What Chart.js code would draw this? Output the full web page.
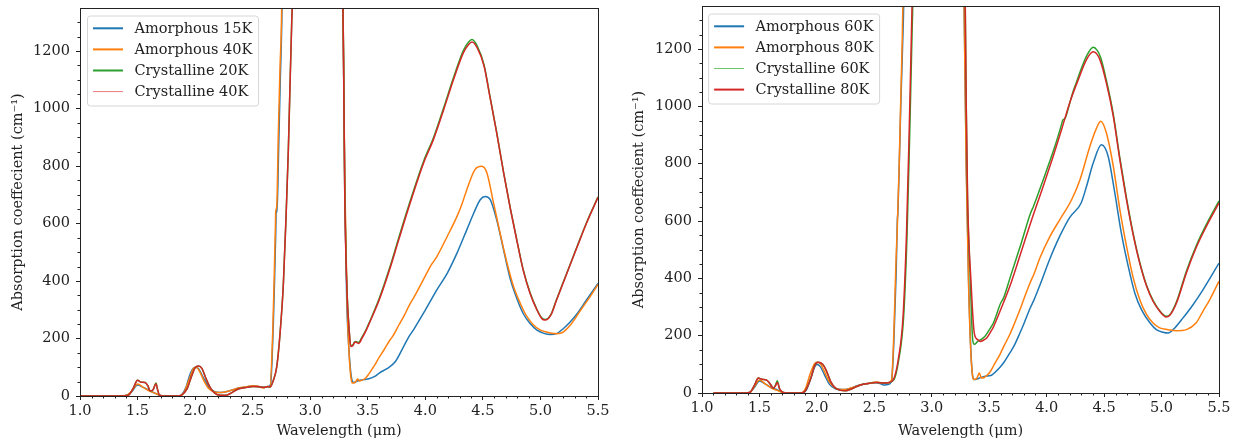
<!DOCTYPE html>
<html>
<head>
<meta charset="utf-8">
<script src="https://cdn.jsdelivr.net/npm/chart.js@4.4.0/dist/chart.umd.min.js"></script>
<style>
  html, body { margin: 0; padding: 0; background: #fff; }
  #wrap { position: relative; width: 1241px; height: 444px; overflow: hidden; }
  canvas { position: absolute; top: 0; }
</style>
</head>
<body>
<div id="wrap">
  <canvas id="cLeft" width="620" height="444" style="left:0;width:620px;height:444px"></canvas>
  <canvas id="cRight" width="621" height="444" style="left:620px;width:621px;height:444px"></canvas>
</div>
<script>
// ---------- axis / tick values ----------
const xTicks = [1.0, 1.5, 2.0, 2.5, 3.0, 3.5, 4.0, 4.5, 5.0, 5.5];
const yTicks = [0, 200, 400, 600, 800, 1000, 1200];
const xRange = [1.0, 5.5];
const yRange = [0, 1350];
const xTitle = 'Wavelength (μm)';
const yTitle = 'Absorption coeffecient (cm⁻¹)';

// ---------- left panel series: [wavelength µm, absorption cm^-1] ----------
const leftLabels = ['Amorphous 15K', 'Amorphous 40K', 'Crystalline 20K', 'Crystalline 40K'];
const amorph15K = [[1.0,0],[1.3,0],[1.4,2],[1.45,15],[1.5,38],[1.55,30],[1.6,20],[1.65,10],[1.7,2],[1.8,0],[1.87,0],[1.92,30],[1.96,80],[2.0,100],[2.03,95],[2.07,65],[2.12,30],[2.17,15],[2.22,12],[2.3,18],[2.38,28],[2.45,32],[2.5,35],[2.55,33],[2.6,30],[2.63,32],[2.655,40],[2.668,120],[2.68,260],[2.69,400],[2.70,560],[2.705,650],[2.712,640],[2.725,850],[2.74,1100],[2.755,1360],[2.78,2500],[3.25,2500],[3.275,1700],[3.285,1360],[3.30,720],[3.317,334],[3.335,170],[3.35,90],[3.365,52],[3.38,47],[3.41,52],[3.435,55],[3.47,57],[3.51,60],[3.56,68],[3.60,80],[3.666,95],[3.74,120],[3.81,171],[3.86,208],[3.90,232],[4.0,299],[4.10,369],[4.19,427],[4.275,497],[4.36,578],[4.42,636],[4.477,683],[4.52,694],[4.564,683],[4.62,613],[4.68,508],[4.74,404],[4.80,334],[4.85,287],[4.91,252],[4.97,229],[5.03,218],[5.086,214],[5.14,217],[5.20,235],[5.26,258],[5.32,287],[5.40,334],[5.5,392]];
const amorph40K = [[1.0,0],[1.3,0],[1.4,2],[1.45,18],[1.5,42],[1.55,30],[1.6,18],[1.65,10],[1.7,2],[1.76,0],[1.86,0],[1.9,10],[1.95,60],[1.99,98],[2.01,100],[2.04,85],[2.08,50],[2.12,25],[2.17,14],[2.22,12],[2.3,18],[2.38,28],[2.45,32],[2.5,36],[2.55,34],[2.59,28],[2.62,32],[2.651,33],[2.674,218],[2.686,392],[2.698,600],[2.70,640],[2.709,659],[2.723,915],[2.738,1148],[2.752,1351],[2.775,2500],[3.25,2500],[3.275,1700],[3.285,1360],[3.30,760],[3.32,330],[3.34,130],[3.355,60],[3.367,45],[3.38,45],[3.40,52],[3.41,59],[3.43,52],[3.45,55],[3.48,62],[3.51,77],[3.55,101],[3.60,135],[3.64,160],[3.69,193],[3.72,210],[3.77,247],[3.81,275],[3.86,315],[3.91,350],[4.0,418],[4.05,455],[4.10,485],[4.19,555],[4.275,625],[4.32,670],[4.36,718],[4.43,787],[4.49,799],[4.535,776],[4.593,671],[4.65,566],[4.71,462],[4.767,380],[4.825,322],[4.883,276],[4.94,247],[5.0,229],[5.057,222],[5.1,218],[5.144,217],[5.18,219],[5.20,223],[5.26,247],[5.35,299],[5.43,345],[5.5,388]];
const cryst20K = [[1.0,0],[1.35,0],[1.42,3],[1.46,25],[1.5,55],[1.53,48],[1.565,47],[1.59,35],[1.61,18],[1.635,22],[1.66,45],[1.675,20],[1.69,3],[1.72,0],[1.85,0],[1.88,3],[1.93,25],[1.97,70],[2.0,98],[2.03,104],[2.06,95],[2.09,65],[2.13,30],[2.17,10],[2.22,3],[2.27,3],[2.32,12],[2.38,25],[2.45,30],[2.5,33],[2.55,32],[2.6,30],[2.63,33],[2.651,31],[2.68,55],[2.709,101],[2.738,218],[2.767,392],[2.79,625],[2.81,857],[2.825,1090],[2.84,1310],[2.848,1420],[2.875,2500],[3.25,2500],[3.275,1700],[3.284,1360],[3.29,1160],[3.30,720],[3.317,400],[3.34,222],[3.352,175],[3.37,178],[3.39,190],[3.42,186],[3.45,205],[3.49,235],[3.51,253],[3.60,340],[3.69,446],[3.77,552],[3.86,668],[3.985,817],[4.07,898],[4.16,1004],[4.245,1108],[4.33,1202],[4.376,1232],[4.405,1240],[4.45,1218],[4.51,1152],[4.56,1046],[4.62,917],[4.68,778],[4.74,650],[4.80,533],[4.85,440],[4.91,359],[4.97,301],[5.01,272],[5.04,266],[5.09,283],[5.14,336],[5.23,429],[5.32,522],[5.40,603],[5.5,693]];
const cryst40K = [[1.0,0],[1.35,0],[1.42,3],[1.46,25],[1.5,55],[1.53,48],[1.565,47],[1.59,35],[1.61,18],[1.635,22],[1.66,43],[1.675,20],[1.69,3],[1.72,0],[1.85,0],[1.88,3],[1.93,25],[1.97,70],[2.0,98],[2.03,104],[2.06,95],[2.09,65],[2.13,30],[2.17,10],[2.22,3],[2.27,3],[2.32,12],[2.38,25],[2.45,30],[2.5,33],[2.55,32],[2.6,30],[2.63,33],[2.651,31],[2.68,55],[2.709,101],[2.738,218],[2.767,392],[2.79,625],[2.81,857],[2.825,1090],[2.84,1310],[2.848,1420],[2.875,2500],[3.25,2500],[3.275,1700],[3.284,1360],[3.29,1150],[3.30,700],[3.317,392],[3.34,219],[3.352,172],[3.37,175],[3.39,188],[3.42,183],[3.45,201],[3.49,232],[3.51,250],[3.60,335],[3.69,440],[3.77,545],[3.86,661],[3.985,811],[4.07,892],[4.16,997],[4.245,1101],[4.33,1194],[4.376,1223],[4.405,1232],[4.45,1212],[4.51,1148],[4.56,1043],[4.62,915],[4.68,776],[4.74,648],[4.80,531],[4.85,438],[4.91,357],[4.97,299],[5.01,270],[5.04,264],[5.09,281],[5.14,334],[5.23,427],[5.32,520],[5.40,601],[5.5,691]];

// ---------- right panel series ----------
const rightLabels = ['Amorphous 60K', 'Amorphous 80K', 'Crystalline 60K', 'Crystalline 80K'];
const amorph60K = [[1.1,0],[1.38,0],[1.42,3],[1.46,22],[1.5,42],[1.55,32],[1.6,20],[1.65,12],[1.7,3],[1.75,0],[1.87,0],[1.91,12],[1.95,55],[1.98,90],[2.0,99],[2.03,92],[2.07,60],[2.11,30],[2.16,15],[2.22,12],[2.28,15],[2.35,25],[2.42,32],[2.5,37],[2.55,33],[2.58,28],[2.62,30],[2.65,42],[2.67,180],[2.69,420],[2.70,600],[2.705,630],[2.716,780],[2.73,1000],[2.745,1200],[2.757,1400],[2.78,2500],[3.25,2500],[3.27,1700],[3.28,1400],[3.30,800],[3.32,400],[3.34,150],[3.356,58],[3.37,47],[3.40,50],[3.457,58],[3.52,62],[3.544,70],[3.594,90],[3.63,108],[3.68,140],[3.717,165],[3.768,210],[3.80,240],[3.855,295],[3.89,325],[3.94,375],[4.03,470],[4.115,548],[4.20,612],[4.30,663],[4.347,721],[4.405,802],[4.477,866],[4.535,826],[4.593,698],[4.65,558],[4.71,442],[4.767,349],[4.825,291],[4.90,244],[4.955,221],[5.013,212],[5.057,209],[5.115,227],[5.187,262],[5.274,308],[5.36,360],[5.5,453]];
const amorph80K = [[1.1,0],[1.38,0],[1.42,3],[1.46,25],[1.5,45],[1.55,32],[1.6,18],[1.65,10],[1.7,2],[1.75,0],[1.86,0],[1.9,15],[1.94,65],[1.98,102],[2.0,107],[2.03,102],[2.06,80],[2.1,45],[2.15,20],[2.2,12],[2.25,12],[2.3,18],[2.38,28],[2.45,34],[2.52,38],[2.57,35],[2.62,35],[2.65,46],[2.67,209],[2.687,442],[2.70,581],[2.716,791],[2.73,1023],[2.75,1400],[2.775,2500],[3.25,2500],[3.27,1700],[3.28,1400],[3.30,780],[3.32,380],[3.34,140],[3.355,60],[3.365,47],[3.39,50],[3.415,70],[3.43,52],[3.46,55],[3.486,64],[3.51,75],[3.544,100],[3.594,135],[3.63,165],[3.68,205],[3.717,240],[3.768,291],[3.80,326],[3.855,384],[3.89,415],[3.94,470],[4.03,547],[4.115,605],[4.217,674],[4.29,744],[4.376,860],[4.434,924],[4.47,948],[4.52,907],[4.58,791],[4.637,640],[4.695,512],[4.75,407],[4.81,326],[4.87,273],[4.926,244],[4.984,227],[5.057,221],[5.13,217],[5.216,221],[5.30,244],[5.36,285],[5.42,326],[5.5,390]];
const cryst60K = [[1.1,0],[1.38,0],[1.42,3],[1.46,30],[1.49,52],[1.52,48],[1.563,45],[1.6,28],[1.62,17],[1.64,28],[1.655,43],[1.675,15],[1.7,3],[1.73,0],[1.86,0],[1.9,8],[1.95,55],[1.98,95],[2.01,107],[2.05,100],[2.08,80],[2.12,40],[2.16,18],[2.2,10],[2.25,8],[2.3,14],[2.38,28],[2.45,33],[2.52,37],[2.58,35],[2.62,36],[2.67,46],[2.71,110],[2.755,265],[2.785,555],[2.808,905],[2.828,1250],[2.836,1400],[2.86,2500],[3.25,2500],[3.28,1700],[3.29,1400],[3.30,1000],[3.31,700],[3.335,400],[3.356,186],[3.37,170],[3.40,180],[3.457,195],[3.515,230],[3.536,244],[3.60,314],[3.623,330],[3.69,413],[3.775,518],[3.86,628],[3.884,650],[3.97,744],[4.057,843],[4.10,897],[4.13,938],[4.14,952],[4.16,958],[4.20,1010],[4.23,1052],[4.26,1085],[4.30,1130],[4.347,1175],[4.405,1206],[4.44,1195],[4.47,1170],[4.52,1090],[4.58,972],[4.637,820],[4.695,680],[4.75,562],[4.81,456],[4.87,375],[4.926,323],[4.984,287],[5.04,268],[5.07,272],[5.13,318],[5.216,425],[5.30,512],[5.39,588],[5.5,670]];
const cryst80K = [[1.1,0],[1.38,0],[1.42,3],[1.46,30],[1.49,52],[1.52,48],[1.563,45],[1.6,28],[1.62,17],[1.64,25],[1.655,37],[1.675,15],[1.7,3],[1.73,0],[1.86,0],[1.9,8],[1.95,55],[1.98,95],[2.01,107],[2.05,100],[2.08,80],[2.12,40],[2.16,18],[2.2,10],[2.25,8],[2.3,14],[2.38,28],[2.45,33],[2.52,37],[2.58,35],[2.62,36],[2.664,46],[2.708,116],[2.75,267],[2.78,558],[2.803,907],[2.823,1256],[2.83,1400],[2.855,2500],[3.25,2500],[3.28,1700],[3.29,1400],[3.30,1000],[3.312,674],[3.342,384],[3.37,209],[3.40,186],[3.42,180],[3.457,186],[3.478,192],[3.515,215],[3.536,230],[3.60,291],[3.69,384],[3.775,488],[3.86,593],[3.97,721],[4.057,826],[4.13,919],[4.20,1012],[4.275,1093],[4.347,1163],[4.405,1190],[4.463,1163],[4.52,1081],[4.58,965],[4.637,814],[4.695,674],[4.75,558],[4.81,453],[4.87,372],[4.926,320],[4.984,285],[5.04,265],[5.07,270],[5.13,314],[5.216,419],[5.30,506],[5.39,581],[5.5,663]];

// ---------- styling ----------
const COLORS = ['#1f77b4', '#ff7f0e', '#2ca02c', '#d62728'];
const LIGHT = ['#6aa6d2', '#ffab60', '#6cc46c', '#e77a7a'];
const FONT = 'DejaVu Serif';
const FSIZE = 14.5;
const TXT = '#222222';
Chart.defaults.font.family = FONT;
Chart.defaults.font.size = FSIZE;
Chart.defaults.color = TXT;

const toPts = arr => arr.map(p => ({ x: p[0], y: p[1] }));

const decorPlugin = {
  id: 'decor',
  afterDatasetsDraw(chart, args, opts) {
    const { ctx, chartArea: a, scales: { x, y } } = chart;
    ctx.save();
    // frame
    ctx.strokeStyle = TXT;
    ctx.lineWidth = 1;
    ctx.strokeRect(Math.round(a.left) + 0.5, Math.round(a.top) + 0.5,
                   Math.round(a.right) - Math.round(a.left), Math.round(a.bottom) - Math.round(a.top));
    // minor ticks
    ctx.beginPath();
    for (let k = 10; k <= 55; k++) {
      if (k % 5 === 0) continue;
      const px = Math.round(x.getPixelForValue(k / 10)) + 0.5;
      ctx.moveTo(px, a.bottom); ctx.lineTo(px, a.bottom + 2.5);
    }
    for (let v = 50; v < 1350; v += 50) {
      if (v % 200 === 0) continue;
      const py = Math.round(y.getPixelForValue(v)) + 0.5;
      ctx.moveTo(a.left, py); ctx.lineTo(a.left - 2.5, py);
    }
    ctx.stroke();
    // legend
    const lx = a.left + opts.dx, ly = a.top + opts.dy, lw = 171, lh = 90, r = 3;
    ctx.beginPath();
    ctx.moveTo(lx + r, ly);
    ctx.lineTo(lx + lw - r, ly); ctx.arcTo(lx + lw, ly, lx + lw, ly + r, r);
    ctx.lineTo(lx + lw, ly + lh - r); ctx.arcTo(lx + lw, ly + lh, lx + lw - r, ly + lh, r);
    ctx.lineTo(lx + r, ly + lh); ctx.arcTo(lx, ly + lh, lx, ly + lh - r, r);
    ctx.lineTo(lx, ly + r); ctx.arcTo(lx, ly, lx + r, ly, r);
    ctx.closePath();
    ctx.fillStyle = 'rgba(255,255,255,0.85)';
    ctx.fill();
    ctx.strokeStyle = '#d6d6d6';
    ctx.lineWidth = 1;
    ctx.stroke();
    ctx.font = FSIZE + 'px "' + FONT + '"';
    ctx.textBaseline = 'middle';
    ctx.textAlign = 'left';
    opts.labels.forEach((lab, i) => {
      const ry = ly + 12.3 + i * 21.1;
      const thin = opts.widths[i] < 1.5;
      ctx.beginPath();
      ctx.strokeStyle = thin ? LIGHT[i] : COLORS[i];
      ctx.lineWidth = opts.widths[i];
      ctx.moveTo(lx + 5.5, ry); ctx.lineTo(lx + 35.5, ry);
      ctx.stroke();
      ctx.fillStyle = TXT;
      ctx.fillText(lab, lx + 47, ry + 0.5);
    });
    ctx.restore();
  }
};

function makeChart(id, series, labels, cfg) {
  const datasets = series.map((s, i) => ({
    label: labels[i],
    data: toPts(s),
    borderColor: COLORS[i],
    backgroundColor: COLORS[i],
    borderWidth: 1.5,
    pointRadius: 0,
    fill: false,
    cubicInterpolationMode: 'monotone',
    order: 4 - i
  }));
  return new Chart(document.getElementById(id), {
    type: 'line',
    data: { datasets },
    plugins: [decorPlugin],
    options: {
      responsive: false,
      animation: false,
      devicePixelRatio: 1,
      parsing: false,
      normalized: true,
      layout: { padding: { left: 0, right: cfg.padRight, top: cfg.padTop, bottom: 0 } },
      plugins: {
        legend: { display: false },
        tooltip: { enabled: false },
        decor: { labels, widths: cfg.legendWidths, dx: cfg.legDx, dy: cfg.legDy }
      },
      scales: {
        x: {
          type: 'linear',
          min: xRange[0], max: xRange[1],
          afterBuildTicks: s => { s.ticks = xTicks.map(v => ({ value: v })); },
          ticks: { callback: v => Number(v).toFixed(1), padding: 3, maxRotation: 0, autoSkip: false, color: TXT, includeBounds: false },
          grid: { display: true, drawOnChartArea: false, drawTicks: true, tickLength: 4, tickColor: TXT, tickWidth: 1 },
          border: { display: true, color: TXT, width: 1 },
          title: { display: true, text: xTitle, color: TXT, padding: { top: 0, bottom: cfg.xTitlePad } },
          afterFit: s => { s.height = cfg.xHeight; s.paddingLeft = 0; s.paddingRight = 0; }
        },
        y: {
          type: 'linear',
          min: yRange[0], max: yRange[1],
          afterBuildTicks: s => { s.ticks = yTicks.map(v => ({ value: v })); },
          ticks: { callback: v => String(v), padding: 6, color: TXT, includeBounds: false },
          grid: { display: true, drawOnChartArea: false, drawTicks: true, tickLength: 4, tickColor: TXT, tickWidth: 1 },
          border: { display: true, color: TXT, width: 1 },
          title: { display: true, text: yTitle, color: TXT, padding: { top: cfg.yTitlePad, bottom: 0 } },
          afterFit: s => { s.width = cfg.yWidth; s.paddingTop = 0; s.paddingBottom = 0; }
        }
      }
    }
  });
}

makeChart('cLeft', [amorph15K, amorph40K, cryst20K, cryst40K], leftLabels, {
  padRight: 22, padTop: 8, xHeight: 48, yWidth: 80, xTitlePad: 4.2, yTitlePad: 9.2,
  legendWidths: [2, 2, 2, 1], legDx: 7.5, legDy: 8
});
makeChart('cRight', [amorph60K, amorph80K, cryst60K, cryst80K], rightLabels, {
  padRight: 22, padTop: 6, xHeight: 51, yWidth: 82, xTitlePad: 4.2, yTitlePad: 10.2,
  legendWidths: [2, 2, 1, 2], legDx: 6.6, legDy: 8
});
</script>
</body>
</html>
